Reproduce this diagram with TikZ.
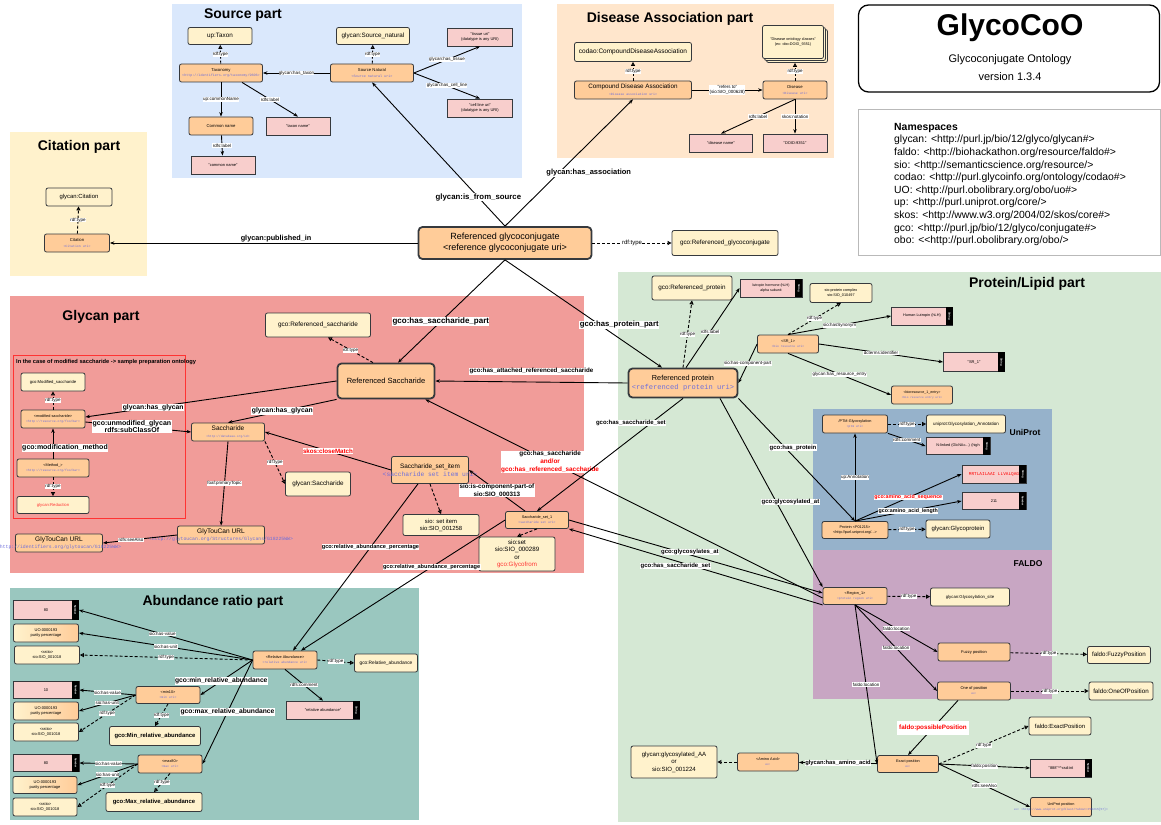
\documentclass[tikz,border=0pt]{standalone}
\usepackage{fontspec}
\setmainfont{Liberation Sans}
\setmonofont{Liberation Mono}
\usetikzlibrary{arrows.meta}

\definecolor{edgecol}{HTML}{36393D}
\definecolor{clsfill}{HTML}{FFF2CC}
\definecolor{instfill}{HTML}{FFCC99}
\definecolor{litfill}{HTML}{F8CECC}
\definecolor{srcbg}{HTML}{DAE8FC}
\definecolor{disbg}{HTML}{FFE6CC}
\definecolor{citbg}{HTML}{FFF2CC}
\definecolor{glybg}{HTML}{F19C99}
\definecolor{abbg}{HTML}{9AC7BF}
\definecolor{protbg}{HTML}{D5E8D4}
\definecolor{unibg}{HTML}{96B2CB}
\definecolor{faldobg}{HTML}{C8A6C3}
\definecolor{uricol}{HTML}{6E6EDB}
\definecolor{framered}{HTML}{FF3333}

% mono uri text
\newcommand{\uritxt}[2][3.4]{{\fontsize{#1}{#1}\ttfamily\selectfont\color{uricol}#2}}
% black datatype band on a literal box
\newcommand{\datatag}[2]{%
  \fill[black] ([xshift=-7pt]#1.north east) rectangle (#1.south east);
  \node[rotate=-90,text=white,inner sep=0pt,font=\bfseries\fontsize{2.6}{3}\selectfont] (#1tag) at ([xshift=-3.5pt]#1.east) {#2};}

\begin{document}
\begin{tikzpicture}[x=1pt,y=-1pt,>={Stealth[length=4.5pt,width=3.4pt]},
    sz/.style 2 args={minimum width=#1,minimum height=#2},
    fnt/.style 2 args={font=\fontsize{#1}{#2}\selectfont},
    gbox/.style={draw=edgecol,line width=0.8pt,rounded corners=2pt,align=center,inner sep=0.5pt},
    cls/.style={gbox,fill=clsfill,fnt={6.3}{7.6}},
    inst/.style={gbox,fill=instfill,fnt={4.2}{5.2}},
    hub/.style={gbox,fill=instfill,line width=1.8pt,rounded corners=4pt},
    lit/.style={gbox,sharp corners,fill=litfill,fnt={4}{5}},
    uo/.style={cls,left color=clsfill,right color=instfill,fnt={4}{5}},
    rel/.style={->,line width=0.9pt},
    typ/.style={-{Triangle[open,length=4pt,width=4pt]},line width=0.9pt,dash pattern=on 3pt off 2pt},
    lbl/.style={fill=white,inner sep=0.4pt,align=center,fnt={4.5}{5.4}},
    blbl/.style={lbl,font=\bfseries\fontsize{#1}{7.6}\selectfont},
    parttitle/.style={font=\bfseries\fontsize{14}{16}\selectfont}]
\useasboundingbox (0,0) rectangle (1161,824);
\fill[white] (0,0) rectangle (1161,824);

% Part backgrounds
\fill[srcbg] (172,4) rectangle (522,178);
\fill[disbg] (557,4) rectangle (834,158);
\fill[citbg] (10,132) rectangle (147,276);
\fill[glybg] (10,296) rectangle (584,573);
\fill[abbg] (10,588) rectangle (419,820);
\fill[protbg] (618,272) rectangle (1161,822);
\fill[unibg] (813,409) rectangle (1052,550);
\fill[faldobg] (813,550) rectangle (1052,699);
\draw[framered,line width=0.8pt] (13,355) rectangle (185,518);

% Titles
\node[parttitle] (srctitle) at (243,15) {Source part};
\node[parttitle] (distitle) at (670,19) {Disease Association part};
\node[parttitle] (cittitle) at (79,147) {Citation part};
\node[parttitle] (glytitle) at (101,317) {Glycan part};
\node[parttitle] (abtitle) at (213,602) {Abundance ratio part};
\node[parttitle] (prottitle) at (1027,284) {Protein/Lipid part};
\node[font=\bfseries\fontsize{8.5}{10}\selectfont] (unititle) at (1025,432) {UniProt};
\node[font=\bfseries\fontsize{8.5}{10}\selectfont] (faldotitle) at (1028,564) {FALDO};
\node[anchor=west,inner sep=0pt,font=\bfseries\fontsize{5.7}{6.5}\selectfont] (frametext) at (16,362) {In the case of modified saccharide -> sample preparation ontology};

% Title box and namespaces
\node[draw,line width=1.3pt,rounded corners=10pt,sz={301}{87}] (titlebox) at (1009,48.5) {};
\node[font=\bfseries\fontsize{30}{32}\selectfont] (titlemain) at (1010,28) {GlycoCoO};
\node[fnt={11}{13}] (titlesub) at (1010,60) {Glycoconjugate Ontology};
\node[fnt={11}{13}] (titlever) at (1010,77) {version 1.3.4};
\node[draw=gray!55,line width=0.5pt,sz={302}{146}] (nsbox) at (1009,182) {};
\node[anchor=north west,align=left,inner sep=0pt,fnt={10.4}{12.6}] (ns) at (894,123) {\textbf{Namespaces}\\
  glycan: <http://purl.jp/bio/12/glyco/glycan\#>\\
  faldo: <http://biohackathon.org/resource/faldo\#>\\
  sio: <http://semanticscience.org/resource/>\\
  codao: <http://purl.glycoinfo.org/ontology/codao\#>\\
  UO: <http://purl.obolibrary.org/obo/uo\#>\\
  up: <http://purl.uniprot.org/core/>\\
  skos: <http://www.w3.org/2004/02/skos/core\#>\\
  gco: <http://purl.jp/bio/12/glyco/conjugate\#>\\
  obo: <{}<http://purl.obolibrary.org/obo/>};

% Source part
\node[cls,sz={64}{17}] (taxon) at (220,36) {up:Taxon};
\node[cls,sz={73}{17}] (srcnat) at (373,36) {glycan:Source\_natural};
\node[lit,sz={65}{18}] (tissue) at (480,37) {"tissue uri"\\(datatype is any URI)};
\node[inst,sz={83}{18}] (taxonomy) at (221,73) {Taxonomy\\\uritxt{<http://identifiers.org/taxonomy/9606>}};
\node[inst,sz={83}{18}] (srcnode) at (372,73) {Source Natural\\\uritxt{<Source natural uri>}};
\node[lit,sz={65}{18}] (cellline) at (480,108) {"cell line uri"\\(datatype is any URI)};
\node[inst,sz={64}{18}] (comname) at (221,126) {Common name};
\node[lit,sz={64}{18}] (taxname) at (298,126) {"taxon name"};
\node[lit,sz={64}{18}] (comlit) at (223,165) {"common name"};
\draw[typ] (taxonomy) -- node[lbl]{rdf:type} (taxon);
\draw[typ] (srcnode) -- node[lbl]{rdf:type} (srcnat);
\draw[rel] (srcnode) -- node[lbl]{glycan:has\_taxon} (taxonomy);
\draw[rel] (srcnode.east) -- node[lbl]{glycan:has\_tissue} (tissue.south);
\draw[rel] (srcnode.east) -- node[lbl]{glycan:has\_cell\_line} (cellline.north);
\draw[rel] (taxonomy) -- node[lbl]{up:commonName} (comname);
\draw[rel] ([xshift=21pt]taxonomy.south) -- node[lbl]{rdfs:label} (taxname.north);
\draw[rel] (comname) -- node[lbl]{rdfs:label} (comlit);

% Disease association part
\node[cls,sz={117}{19},fnt={6.5}{7.6}] (codao) at (633,52) {codao:CompoundDiseaseAssociation};
\node[cls,sz={61}{33}] (dstack3) at (797,46) {};
\node[cls,sz={61}{33}] (dstack2) at (795,44) {};
\node[cls,sz={61}{33},fnt={3.8}{4.8}] (dstack) at (793,42) {"Disease ontology classes"\\(ex: obo:DOID\_9351)};
\node[inst,sz={117}{18},fnt={6.3}{7.4}] (cda) at (633,90) {Compound Disease Association\\\uritxt[3.2]{<Disease association uri>}};
\node[inst,sz={64}{18}] (disease) at (795,90) {Disease\\\uritxt[3.2]{<Disease uri>}};
\node[lit,sz={63}{18}] (disname) at (721,143) {"disease name"};
\node[lit,sz={64}{18}] (doid) at (795,143) {"DOID:9351"};
\draw[typ] (cda) -- node[lbl]{rdf:type} (codao);
\draw[typ] (disease.north) -- node[lbl]{rdf:type} (disease.north |- dstack3.south);
\draw[rel] (cda) -- node[lbl]{"refers to"\\(sio:SIO\_000628)} (disease);
\draw[rel] (disease.south) -- node[lbl]{rdfs:label} (disname.north);
\draw[rel] (disease) -- node[lbl]{skos:notation} (doid);

% Citation part
\node[cls,sz={66}{18},fnt={5.9}{7}] (citcls) at (79,197) {glycan:Citation};
\node[inst,sz={65}{18}] (cit) at (77,243) {Citation\\\uritxt[3.2]{<Citation uri>}};
\draw[typ] (cit) -- node[lbl]{rdf:type} (citcls);

% Referenced glycoconjugate
\node[hub,sz={173}{32},fnt={9}{11}] (rgc) at (505,243) {Referenced glycoconjugate\\<reference glycoconjugate uri>};
\node[cls,sz={106}{25}] (rgccls) at (725,243) {gco:Referenced\_glycoconjugate};
\draw[typ] (rgc) -- node[lbl,fnt={6}{7}]{rdf:type} (rgccls);
\draw[rel] (rgc.north) -- node[blbl=7.8,pos=0.2]{glycan:is\_from\_source} (srcnode.south);
\draw[rel] (rgc.north) -- node[blbl=7.5,pos=0.42,xshift=30pt]{glycan:has\_association} (cda.south);
\draw[rel] (rgc) -- node[blbl=7.3,above,pos=0.46]{glycan:published\_in} (cit);

% Glycan part
\node[cls,sz={64}{18},fnt={4.2}{5}] (modcls) at (53,382) {gco:Modified\_saccharide};
\node[inst,sz={64}{18},fnt={3.8}{4.8}] (modsac) at (53,419) {<modified saccharide>\\\uritxt[3.1]{<http://resource.org/foo/bar>}};
\node[inst,sz={72}{18},fnt={3.8}{4.8}] (method) at (53,468) {<Method\_>\\\uritxt[3.1]{<http://resource.org/foo/bar>}};
\node[cls,sz={72}{17},fnt={4.2}{5}] (reduction) at (53,505) {\textcolor{framered}{glycan:Reduction}};
\node[inst,sz={73}{18},fnt={6.5}{7.4}] (sacch) at (228,432) {Saccharide\\\uritxt[3]{<http://database.org/id>}};
\node[inst,sz={87}{18},fnt={6.6}{7.6}] (gtc) at (221,535) {GlyTouCan URL\\\makebox[0pt]{\uritxt[4.8]{<http://glytoucan.org/Structures/Glycans/G18225WW>}}};
\node[inst,sz={87}{18},fnt={6.6}{7.6}] (gtcl) at (59,543) {GlyTouCan URL\\\makebox[0pt]{\uritxt[4.8]{<http://identifiers.org/glytoucan/G18225WW>}}};
\node[hub,sz={97}{35},fnt={7.5}{9}] (rsac) at (386,381) {Referenced Saccharide};
\node[cls,sz={105}{24},fnt={6.4}{7.6}] (rsaccls) at (318,325) {gco:Referenced\_saccharide};
\node[cls,sz={65}{24}] (sacccls) at (318,484) {glycan:Saccharide};
\node[inst,sz={77}{27},fnt={6.4}{7.8}] (ssi) at (430,470) {Saccharide\_set\_item\\\makebox[0pt]{\uritxt[6.3]{<saccharide set item uri>}}};
\node[cls,sz={76}{21},fnt={5.9}{7}] (siosetitem) at (441,525) {sio: set item\\sio:SIO\_001258};
\node[inst,sz={63}{17},fnt={3.8}{4.8}] (ss1) at (537,520) {Saccharide\_set\_1\\\uritxt[3.1]{<saccharide set uri>}};
\node[cls,sz={76}{34},fnt={6.2}{7.4}] (sioset) at (517,554) {sio:set\\sio:SIO\_000289\\or\\\textcolor{framered}{gco:Glycofrom}};
\draw[typ] (modsac) -- node[lbl]{rdf:type} (modcls);
\draw[rel] (method) -- node[blbl=7,pos=0.35,xshift=12pt]{gco:modification\_method} (modsac);
\draw[typ] (method) -- node[lbl]{rdf:type} (reduction);
\draw[rel] (rsac.west) -- node[blbl=6.8,pos=0.73]{glycan:has\_glycan} ([yshift=2pt]modsac.east);
\draw[rel] ([yshift=-3pt]modsac.east) -- node[blbl=7,pos=0.44]{gco:unmodified\_glycan\\rdfs:subClassOf} (sacch.west);
\draw[rel] (rsac.south west) -- node[blbl=6.8]{glycan:has\_glycan} (sacch.north);
\draw[rel] (sacch.south) -- node[lbl]{foaf:primaryTopic} (gtc.north);
\draw[rel] (gtc.west) -- node[lbl,pos=0.62]{rdfs:seeAlso} (gtcl.east);
\draw[typ] (sacch.south east) -- node[lbl]{rdf:type} (sacccls.west);
\draw[typ] ([xshift=-13pt]rsac.north) -- node[lbl]{rdf:type} ([xshift=10pt]rsaccls.south);
\draw[rel] (ssi.west) -- node[blbl=6.2,text=red]{skos:closeMatch} (sacch.east);
\draw[typ] (ssi.south) -- (siosetitem.north);
\draw[rel] ([xshift=-12pt]ss1.north) -- node[blbl=6.3]{sio:is-component-part-of\\sio:SIO\_000313} (ssi.east);
\draw[typ] (ss1.south) -- (sioset.north);

% Abundance ratio part
\node[lit,sz={65}{19}] (v1) at (46,610) {80};
\datatag{v1}{Number}
\node[uo,sz={65}{18}] (u1) at (46,633) {UO:0000193\\purity percentage};
\node[cls,sz={65}{18},fnt={4}{5}] (r1) at (47,655) {<ratio>\\sio:SIO\_001018};
\node[inst,sz={64}{18},fnt={3.8}{4.8}] (relab) at (285,660) {<Relative Abundance>\\\uritxt[3.1]{<relative abundance uri>}};
\node[cls,sz={63}{18},fnt={4.8}{5.8}] (relabcls) at (386,663) {gco:Relative\_abundance};
\node[lit,sz={73}{18}] (relcom) at (323,710) {"relative abundance"};
\datatag{relcom}{String}
\node[lit,sz={66}{17}] (v2) at (46,690) {10};
\datatag{v2}{Number}
\node[uo,sz={65}{18}] (u2) at (46,711) {UO:0000193\\purity percentage};
\node[cls,sz={65}{18},fnt={4}{5}] (r2) at (46,732) {<ratio>\\sio:SIO\_001018};
\node[inst,sz={64}{17},fnt={3.8}{4.8}] (mn) at (168,695) {<min10>\\\uritxt[3.1]{<min uri>}};
\node[cls,sz={91}{19},font=\bfseries\fontsize{5.9}{7}\selectfont] (mncls) at (155,736) {gco:Min\_relative\_abundance};
\node[lit,sz={66}{17}] (v3) at (46,763) {80};
\datatag{v3}{Number}
\node[uo,sz={64}{17}] (u3) at (45,785) {UO:0000193\\purity percentage};
\node[cls,sz={64}{18},fnt={4}{5}] (r3) at (45,807) {<ratio>\\sio:SIO\_001018};
\node[inst,sz={64}{18},fnt={3.8}{4.8}] (mx) at (170,764) {<max80>\\\uritxt[3.1]{<max uri>}};
\node[cls,sz={96}{19},font=\bfseries\fontsize{5.9}{7}\selectfont] (mxcls) at (154,802) {gco:Max\_relative\_abundance};
\draw[rel] (relab.west) -- node[lbl,pos=0.52]{sio:has-value} (v1.east);
\draw[rel] (relab.west) -- node[lbl,pos=0.5]{sio:has-unit} (u1.east);
\draw[typ] (relab.west) -- node[lbl]{rdf:type} (r1.east);
\draw[typ] (relab.east) -- node[lbl]{rdf:type} (relabcls.west);
\draw[rel] (relab.south) -- node[lbl]{rdfs:comment} (relcom.north);
\draw[rel] (relab.west) -- node[blbl=6.7,pos=0.6]{gco:min\_relative\_abundance} (mn.east);
\draw[rel] (relab.west) -- node[blbl=6.7,pos=0.5]{gco:max\_relative\_abundance} (mx.east);
\draw[rel] (mn.west) -- node[lbl]{sio:has-value} (v2.east);
\draw[rel] (mn.west) -- node[lbl]{sio:has-unit} (u2.east);
\draw[typ] (mn.west) -- node[lbl]{rdf:type} (r2.east);
\draw[typ] (mn.south) -- node[lbl]{rdf:type} (mncls.north);
\draw[rel] (mx.west) -- node[lbl]{sio:has-value} (v3.east);
\draw[rel] (mx.west) -- node[lbl]{sio:has-unit} (u3.east);
\draw[typ] (mx.west) -- node[lbl]{rdf:type} (r3.east);
\draw[typ] (mx.south) -- node[lbl]{rdf:type} (mxcls.north);
\draw[rel] ([xshift=-12pt]ssi.south) -- node[blbl=5.6,pos=0.38]{gco:relative\_abundance\_percentage} ([xshift=8pt]relab.north);
\draw[rel] (ss1.west) -- node[blbl=5.6,pos=0.36]{gco:relative\_abundance\_percentage} ([xshift=16pt]relab.north);

% Protein/Lipid part
\node[hub,sz={109}{29},fnt={7.3}{8.8}] (rprot) at (683,383) {Referenced protein\\\uritxt[7.1]{<referenced protein uri>}};
\node[cls,sz={80}{24}] (rprotcls) at (692,288) {gco:Referenced\_protein};
\node[lit,sz={62}{18},fnt={3.6}{4.4}] (lutro) at (771,288) {lutropin hormone (hLH)\\alpha subunit};
\datatag{lutro}{String}
\node[cls,sz={62}{19},fnt={3.8}{4.6}] (pcomplex) at (841,293) {sio:protein complex\\sio:SIO\_010497};
\node[lit,sz={61}{18},fnt={3.8}{4.6}] (hlh) at (922,316) {Human Lutropin (hLH)};
\datatag{hlh}{String}
\node[inst,sz={61}{18},fnt={3.8}{4.8}] (sr1) at (788,344) {<SR\_1>\\\uritxt[3]{<bio resource uri>}};
\node[lit,sz={61}{19}] (sr1lit) at (974,362) {"SR\_1"};
\datatag{sr1lit}{String}
\node[inst,sz={61}{18},fnt={3.6}{4.6}] (bioentry) at (922,395) {<bioresource\_1\_entry>\\\uritxt[2.8]{<bio resource entry uri>}};
\draw[typ] (rprot.north) -- node[lbl]{rdf:type} (rprotcls.south);
\draw[rel] ([xshift=3pt]rprot.north) -- node[lbl,pos=0.45]{rdfs:label} (lutro.west);
\draw[rel] (sr1.west) -- node[lbl]{sio:has-component-part} (rprot.east);
\draw[typ] (sr1.north) -- node[lbl]{rdf:type} (pcomplex.south);
\draw[rel] (sr1.north) -- node[lbl]{sio:hasSynonym} (hlh.west);
\draw[rel] (sr1.east) -- node[lbl]{dcterms:identifier} (sr1lit.west);
\draw[rel] (sr1.south) -- node[lbl]{glycan:has\_resource\_entry} (bioentry.west);

% UniProt
\node[inst,sz={65}{18},fnt={3.8}{4.8}] (ptm) at (855,424) {/PTM-Glycosylation\\\uritxt[3]{<ptm uri>}};
\node[cls,sz={79}{18},fnt={4.5}{5.4}] (glyann) at (966,424) {uniprot:Glycosylation\_Annotation};
\node[lit,sz={64}{17},fnt={3.8}{4.6}] (nlinked) at (958,446) {N-linked (GlcNAc...) (high};
\datatag{nlinked}{String}
\node[lit,sz={64}{18}] (seq) at (994,474) {{\ttfamily\fontsize{4.4}{5}\selectfont\color{red}MRTLAILAAI LLVALQAG}};
\datatag{seq}{String}
\node[lit,sz={64}{17}] (len211) at (994,501) {211};
\datatag{len211}{Number}
\node[inst,sz={66}{17},fnt={3.8}{4.8}] (uprot) at (855,530) {Protein <P01215>\\<http://purl.uniprot.org/...>};
\node[cls,sz={64}{18},fnt={6}{7}] (glyprot) at (958,529) {glycan:Glycoprotein};
\draw[typ] (ptm) -- node[lbl]{rdf:type} (glyann);
\draw[rel] (ptm.south east) -- node[lbl]{rdfs:comment} (nlinked.west);
\draw[rel] (uprot.north) -- node[lbl]{up:Annotation} (ptm.south);
\draw[rel] (uprot.north) -- node[blbl=5.3,text=red]{gco:amino\_acid\_sequence} (seq.west);
\draw[rel] (uprot.north) -- node[blbl=5.3]{gco:amino\_acid\_length} (len211.west);
\draw[typ] (uprot) -- node[lbl]{rdf:type} (glyprot);

% FALDO
\node[inst,sz={64}{17},fnt={3.8}{4.8}] (region) at (855,596) {<Region\_1>\\\uritxt[3]{<protein region uri>}};
\node[cls,sz={79}{18},fnt={4.3}{5.2}] (glysite) at (970,597) {glycan:Glycosylation\_site};
\node[inst,sz={72}{18},fnt={4}{5}] (fuzzy) at (974,652) {Fuzzy position};
\node[cls,sz={63}{17},fnt={6.2}{7.4}] (fuzzycls) at (1119,655) {faldo:FuzzyPosition};
\node[inst,sz={73}{18},fnt={4}{5}] (oneof) at (974,691) {One of position\\\uritxt[3]{ex:}};
\node[cls,sz={64}{18},fnt={6.2}{7.4}] (oneofcls) at (1121,691) {faldo:OneOfPosition};
\draw[typ] (region) -- node[lbl]{rdf:type} (glysite);
\draw[rel] (region.south) -- node[lbl]{faldo:location} (fuzzy.west);
\draw[rel] (region.south) -- node[lbl]{faldo:location} (oneof.west);
\draw[typ] (fuzzy) -- node[lbl]{rdf:type} (fuzzycls);
\draw[typ] (oneof) -- node[lbl]{rdf:type} (oneofcls);

% Exact position and amino acid
\node[cls,sz={86}{32},fnt={6.1}{7.4}] (glyaa) at (674,762) {glycan:glycosylated\_AA\\or\\sio:SIO\_001224};
\node[inst,sz={61}{18},fnt={3.8}{4.8}] (aa) at (768,762) {<Amino Acid>\\\uritxt[3]{ex:}};
\node[inst,sz={61}{17},fnt={3.8}{4.8}] (exact) at (908,764) {Exact position\\\uritxt[3]{ex:}};
\node[cls,sz={62}{18},fnt={5.9}{7}] (exactcls) at (1060,726) {faldo:ExactPosition};
\node[lit,sz={61}{18}] (pos888) at (1061,768) {"888"\textasciicircum\textasciicircum xsd:int};
\datatag{pos888}{Number}
\node[inst,sz={61}{19},fnt={3.8}{4.8}] (uppos) at (1061,807) {UniProt position\\\makebox[0pt]{\uritxt[3]{ex: <http://www.uniprot.org/blast/?about=P01215[57]>}}};
\draw[rel] (region.south) -- node[lbl]{faldo:location} (exact.west);
\draw[rel] ([xshift=-16pt]oneof.south) -- node[blbl=6.3,text=red,minimum width=72,minimum height=14]{faldo:possiblePosition} (exact.north);
\draw[rel] (exact) -- node[blbl=5.8]{glycan:has\_amino\_acid} (aa);
\draw[typ] (aa) -- (glyaa);
\draw[typ] (exact.east) -- node[lbl]{rdf:type} (exactcls.west);
\draw[rel] (exact.east) -- node[lbl]{faldo:position} (pos888.west);
\draw[rel] (exact.east) -- node[lbl]{rdfs:seeAlso} (uppos.west);

% Links between the parts
\draw[rel] (rgc.south) -- node[blbl=8,pos=0.6]{gco:has\_saccharide\_part} ([xshift=12pt]rsac.north);
\draw[rel] (rgc.south) -- node[blbl=7.7,pos=0.6,xshift=20pt]{gco:has\_protein\_part} ([xshift=-21pt]rprot.north);
\draw[rel] (rprot.west) -- node[blbl=6.2,above=7pt]{gco:has\_attached\_referenced\_saccharide} (rsac.east);
\draw[rel] ([yshift=-2pt]region.west) -- node[blbl=6.4,pos=0.686]{gco:has\_saccharide\\\textcolor{red}{and/or}\\\textcolor{red}{gco:has\_referenced\_saccharide}} ([xshift=-10pt]rsac.south east);
\draw[rel] (rprot.south) -- node[blbl=6,pos=0.22,xshift=-20pt]{gco:has\_saccharide\_set} (ss1.north);
\draw[rel] (ss1.east) -- node[blbl=6,pos=0.477,yshift=3pt]{gco:glycosylates\_at} ([yshift=3pt]region.west);
\draw[rel] (region.south west) -- node[blbl=6,pos=0.58,yshift=-5pt]{gco:has\_saccharide\_set} (ss1.south east);
\draw[rel] ([xshift=37pt]rprot.south) -- node[blbl=6,pos=0.55,xshift=14pt]{gco:glycosylated\_at} (region.north west);
\draw[rel] (rprot.south east) -- node[blbl=6,pos=0.4,xshift=8pt]{gco:has\_protein} (uprot.north);
\end{tikzpicture}
\end{document}
